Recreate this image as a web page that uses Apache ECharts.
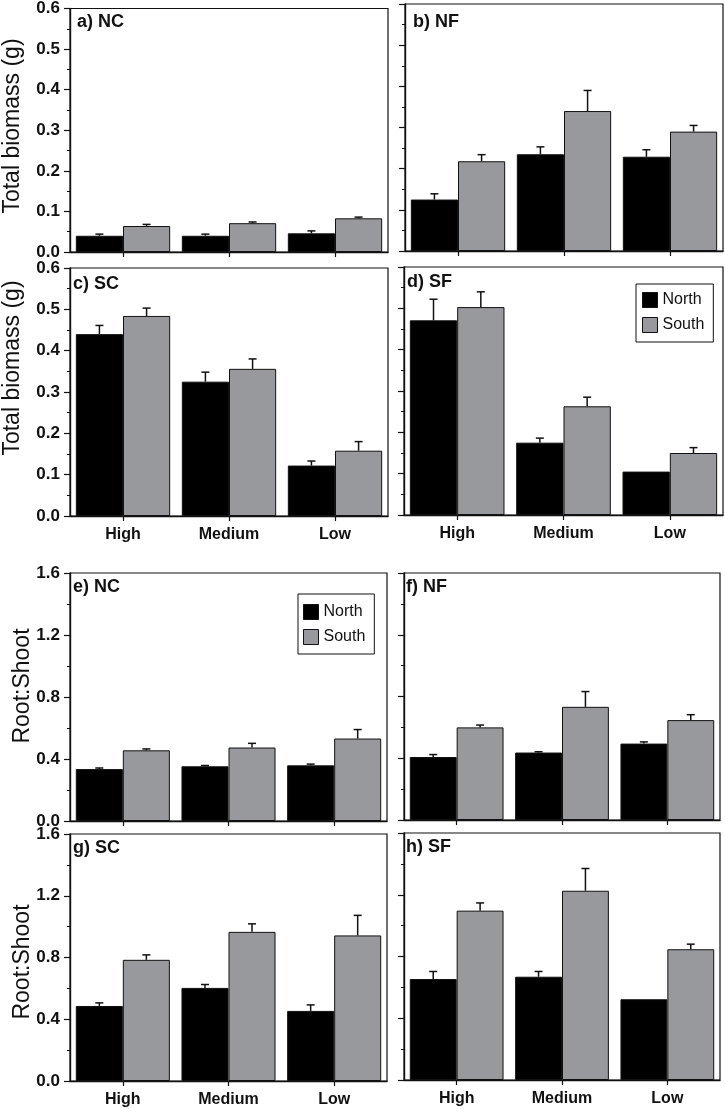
<!DOCTYPE html>
<html>
<head>
<meta charset="utf-8">
<script src="https://cdn.jsdelivr.net/npm/echarts@6/dist/echarts.min.js"></script>
<style>
html,body{margin:0;padding:0;background:#fff;}
#chart{width:725px;height:1109px;}
</style>
</head>
<body>
<div id="chart"></div>
<script>
// ---------------- DATA ----------------
const categories = ['High', 'Medium', 'Low'];
const seriesNames = ['North', 'South'];
const panelLabels = ['a) NC', 'b) NF', 'c) SC', 'd) SF', 'e) NC', 'f) NF', 'g) SC', 'h) SF'];
const biomassTicks = [0, 0.6, 0.1];
const rootShootTicks = [0, 1.6, 0.4];

// Total biomass (g): means and standard errors
const tb_NC_north = [0.040, 0.040, 0.046];
const tb_NC_north_se = [0.004, 0.004, 0.006];
const tb_NC_south = [0.064, 0.071, 0.083];
const tb_NC_south_se = [0.004, 0.003, 0.003];

const tb_NF_north = [0.125, 0.235, 0.229];
const tb_NF_north_se = [0.014, 0.018, 0.017];
const tb_NF_south = [0.218, 0.340, 0.290];
const tb_NF_south_se = [0.016, 0.050, 0.015];

const tb_SC_north = [0.440, 0.325, 0.122];
const tb_SC_north_se = [0.021, 0.023, 0.011];
const tb_SC_south = [0.484, 0.356, 0.158];
const tb_SC_south_se = [0.019, 0.024, 0.022];

const tb_SF_north = [0.471, 0.175, 0.105];
const tb_SF_north_se = [0.051, 0.011, 0];
const tb_SF_south = [0.503, 0.263, 0.150];
const tb_SF_south_se = [0.037, 0.022, 0.013];

// Root:Shoot: means and standard errors
const rs_NC_north = [0.335, 0.353, 0.359];
const rs_NC_north_se = [0.007, 0.005, 0.008];
const rs_NC_south = [0.456, 0.474, 0.532];
const rs_NC_south_se = [0.009, 0.027, 0.058];

const rs_NF_north = [0.408, 0.437, 0.495];
const rs_NF_north_se = [0.016, 0.005, 0.011];
const rs_NF_south = [0.600, 0.733, 0.647];
const rs_NF_south_se = [0.015, 0.099, 0.035];

const rs_SC_north = [0.486, 0.603, 0.454];
const rs_SC_north_se = [0.020, 0.022, 0.039];
const rs_SC_south = [0.785, 0.966, 0.943];
const rs_SC_south_se = [0.032, 0.052, 0.130];

const rs_SF_north = [0.654, 0.669, 0.523];
const rs_SF_north_se = [0.049, 0.034, 0];
const rs_SF_south = [1.097, 1.226, 0.847];
const rs_SF_south_se = [0.050, 0.144, 0.033];

// ---------------- LAYOUT ----------------
const panelData = [
  [tb_NC_north, tb_NC_north_se, tb_NC_south, tb_NC_south_se],
  [tb_NF_north, tb_NF_north_se, tb_NF_south, tb_NF_south_se],
  [tb_SC_north, tb_SC_north_se, tb_SC_south, tb_SC_south_se],
  [tb_SF_north, tb_SF_north_se, tb_SF_south, tb_SF_south_se],
  [rs_NC_north, rs_NC_north_se, rs_NC_south, rs_NC_south_se],
  [rs_NF_north, rs_NF_north_se, rs_NF_south, rs_NF_south_se],
  [rs_SC_north, rs_SC_north_se, rs_SC_south, rs_SC_south_se],
  [rs_SF_north, rs_SF_north_se, rs_SF_south, rs_SF_south_se]
];
// [left, top, right edge, bottom edge]
const boxes = [
  [70, 5, 388, 252],
  [405, 4, 723, 251],
  [70, 268, 388, 516],
  [404, 267, 723, 515],
  [70, 573, 387, 821],
  [404, 573, 720, 820],
  [70, 834, 387, 1081],
  [404, 833, 720, 1080]
];
const labelPos = [[77, 27], [413, 27], [73, 289], [407, 287], [73, 592], [406, 592], [73, 853], [406, 852]];

const BLACK = '#000000';
const GRAY = '#98999d';
const GAP = 0.11;

const grids = [], xAxes = [], yAxes = [], series = [], graphics = [];

boxes.forEach((b, i) => {
  const isLeft = i % 2 === 0;
  const showX = (i === 2 || i === 3 || i === 6 || i === 7);
  const ticks = i < 4 ? biomassTicks : rootShootTicks;
  grids.push({
    left: b[0], top: b[1], width: b[2] - b[0], height: b[3] - b[1],
    show: true, borderColor: '#111', borderWidth: 1.2, backgroundColor: 'transparent'
  });
  xAxes.push({
    type: 'category', gridIndex: i, data: categories,
    axisLine: { lineStyle: { color: '#111', width: 1.4 } },
    axisTick: { show: true, alignWithLabel: true, length: 5, inside: false, lineStyle: { color: '#111', width: 1.2 } },
    axisLabel: { show: showX, margin: 11, color: '#111', fontSize: 16, fontWeight: 'bold', fontFamily: 'Liberation Sans, Arial, sans-serif' },
    splitLine: { show: false }
  });
  yAxes.push({
    type: 'value', gridIndex: i, min: ticks[0], max: ticks[1], interval: ticks[2],
    axisLine: { show: true, lineStyle: { color: '#111', width: 1.4 } },
    axisTick: { show: true, length: 6, lineStyle: { color: '#111', width: 1.2 } },
    minorTick: { show: true, splitNumber: 2, length: 3, lineStyle: { color: '#111', width: 1 } },
    axisLabel: {
      show: isLeft, margin: 10, color: '#111', fontSize: 17, fontWeight: 'bold',
      fontFamily: 'Liberation Sans, Arial, sans-serif',
      formatter: v => v.toFixed(1)
    },
    splitLine: { show: false }
  });
  const d = panelData[i];
  [[0, BLACK], [2, GRAY]].forEach(([k, color], si) => {
    series.push({
      type: 'bar', name: seriesNames[si], xAxisIndex: i, yAxisIndex: i,
      data: d[k], barGap: '0%', barCategoryGap: (GAP * 100) + '%',
      itemStyle: { color: color, borderColor: '#111', borderWidth: 1 },
      animation: false, z: 2
    });
  });
  [[0, -1], [2, 1]].forEach(([k, side]) => {
    const mean = d[k], se = d[k + 1];
    series.push({
      type: 'custom', xAxisIndex: i, yAxisIndex: i,
      data: categories.map((c, j) => [j, mean[j], se[j]]),
      encode: { x: 0, y: 1 },
      animation: false, z: 5, silent: true,
      renderItem: function (params, api) {
        const ci = api.value(0), m = api.value(1), s = api.value(2);
        if (!s) return null;
        const band = api.size([1, 0])[0];
        const bw = band * (1 - GAP) / 2;
        const p0 = api.coord([ci, m]);
        const p1 = api.coord([ci, m + s]);
        const x = p0[0] + side * bw / 2;
        const st = { stroke: '#111', lineWidth: 1.5 };
        return {
          type: 'group', children: [
            { type: 'line', shape: { x1: x, y1: p0[1], x2: x, y2: p1[1] }, style: st },
            { type: 'line', shape: { x1: x - 4, y1: p1[1], x2: x + 4, y2: p1[1] }, style: st }
          ]
        };
      }
    });
  });
  graphics.push({
    type: 'text', left: labelPos[i][0], top: labelPos[i][1] - 14,
    style: { text: panelLabels[i], font: 'bold 18px "Liberation Sans", Arial, sans-serif', fill: '#111' }
  });
});

// Axis titles
const titles = [
  ['Total biomass (g)', 13, 126],
  ['Total biomass (g)', 13, 368],
  ['Root:Shoot', 23, 686],
  ['Root:Shoot', 23, 962]
];
titles.forEach(t => {
  graphics.push({
    type: 'text', x: t[1], y: t[2], rotation: Math.PI / 2,
    style: { text: t[0], font: '23px "Liberation Sans", Arial, sans-serif', fill: '#111', textAlign: 'center', textVerticalAlign: 'middle' }
  });
});

const legendBase = {
  data: seriesNames, orient: 'vertical', selectedMode: false,
  itemWidth: 15, itemHeight: 15, itemGap: 9, icon: 'rect',
  borderColor: '#111', borderWidth: 1, backgroundColor: '#fff',
  textStyle: { fontSize: 16, color: '#111', fontFamily: 'Liberation Sans, Arial, sans-serif', lineHeight: 15 },
  itemTextGap: 11,
  itemStyle: { borderColor: '#111', borderWidth: 1 }
};
const legends = [
  Object.assign({}, legendBase, { left: 636, top: 284, padding: [8, 9, 9, 6] }),
  Object.assign({}, legendBase, { left: 298, top: 594, padding: [10, 9, 9, 5] })
];

const chart = echarts.init(document.getElementById('chart'), null, { renderer: 'canvas' });
chart.setOption({
  backgroundColor: '#fff',
  animation: false,
  grid: grids,
  xAxis: xAxes,
  yAxis: yAxes,
  legend: legends,
  series: series,
  graphic: graphics
});
</script>
</body>
</html>
